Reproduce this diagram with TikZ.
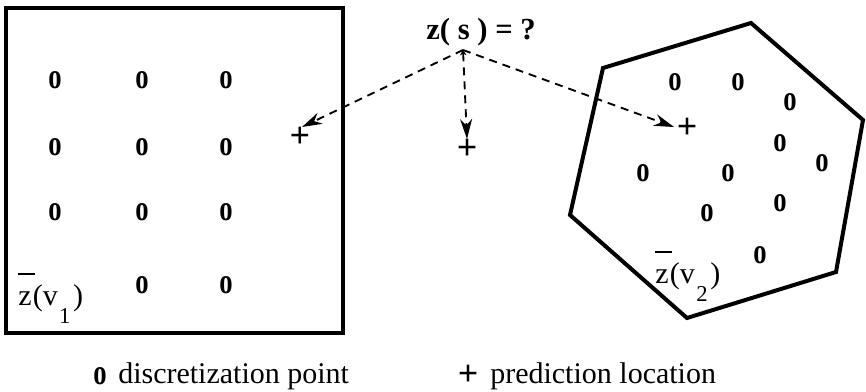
\documentclass[tikz,border=0pt]{standalone}
\usepackage{fontspec}
\setmainfont{Liberation Serif}
\usetikzlibrary{arrows.meta}
\newcommand{\dpt}{\fontsize{27}{27}\bfseries\scalebox{0.74}[1]{o}}
\newcommand{\zbar}{\makebox[0pt][l]{\rule[1.0em]{0.55em}{0.07em}}z}
\begin{document}
\begin{tikzpicture}[x=0.75pt,y=-0.75pt,
  dp/.style={inner sep=0pt},
  pl/.style={inner sep=0pt,font=\fontsize{27}{27}\selectfont\bfseries},
  lbl/.style={inner sep=0pt,anchor=base west,font=\fontsize{22.5}{22.5}\selectfont},
  dashconn/.style={line width=1.4pt,dash pattern=on 6pt off 4.5pt,-{Stealth[length=15pt,width=9pt]}},
  region/.style={line width=2.6pt,line join=miter}]
\useasboundingbox (0,0) rectangle (866,392);
% square region
\draw[region] (6,8) rectangle (343,333);
% hexagon region
\draw[region,line width=3pt] (603,68) -- (751,23) -- (863,120) -- (836,272) -- (687,318) -- (570,215) -- cycle;
% discretization points in square
\foreach \x/\y [count=\i] in {55/80,142/80,226/80,55/147,142/147,226/147,55/212,142/212,226/212,142/285,226/285}
  \node[dp] (a\i) at (\x,\y) {\dpt};
% discretization points in hexagon
\foreach \x/\y [count=\i] in {675/82,738/82,790/102,780/143,822/163,643/173,728/173,780/203,707/213,760/255}
  \node[dp] (b\i) at (\x,\y) {\dpt};
% labels of regions
\node[lbl] (v1) at (18,305) {\zbar\kern1pt(v\kern1pt\raisebox{-0.62em}{\fontsize{17}{17}\selectfont 1}\kern2pt)};
\node[lbl] (v2) at (655,283) {\zbar\kern1pt(v\kern1pt\raisebox{-0.62em}{\fontsize{17}{17}\selectfont 2}\kern2pt)};
% question
\node[inner sep=0pt,anchor=base,font=\fontsize{23}{23}\selectfont\bfseries] (q) at (481,40) {z( s ) = ?};
\coordinate (o) at (463,50);
% prediction locations
\node[pl] (p1) at (300,137) {+};
\node[pl] (p2) at (467,149) {+};
\node[pl] (p3) at (687,128) {+};
\coordinate (t1) at (302,127);
\coordinate (t2) at (467,139);
\coordinate (t3) at (674,127);
\draw[dashconn] (o) -- (t1);
\draw[dashconn,{Stealth[length=4pt,width=5pt]}-{Stealth[length=15pt,width=9pt]}] (o) -- (t2);
\draw[dashconn] (o) -- (t3);
% legend
\node[dp] (lo) at (100,376) {\dpt};
\node[lbl] (lt1) at (118,383) {discretization point};
\node[pl] (lp) at (468,375) {+};
\node[lbl] (lt2) at (490,383) {prediction location};
\end{tikzpicture}
\end{document}
